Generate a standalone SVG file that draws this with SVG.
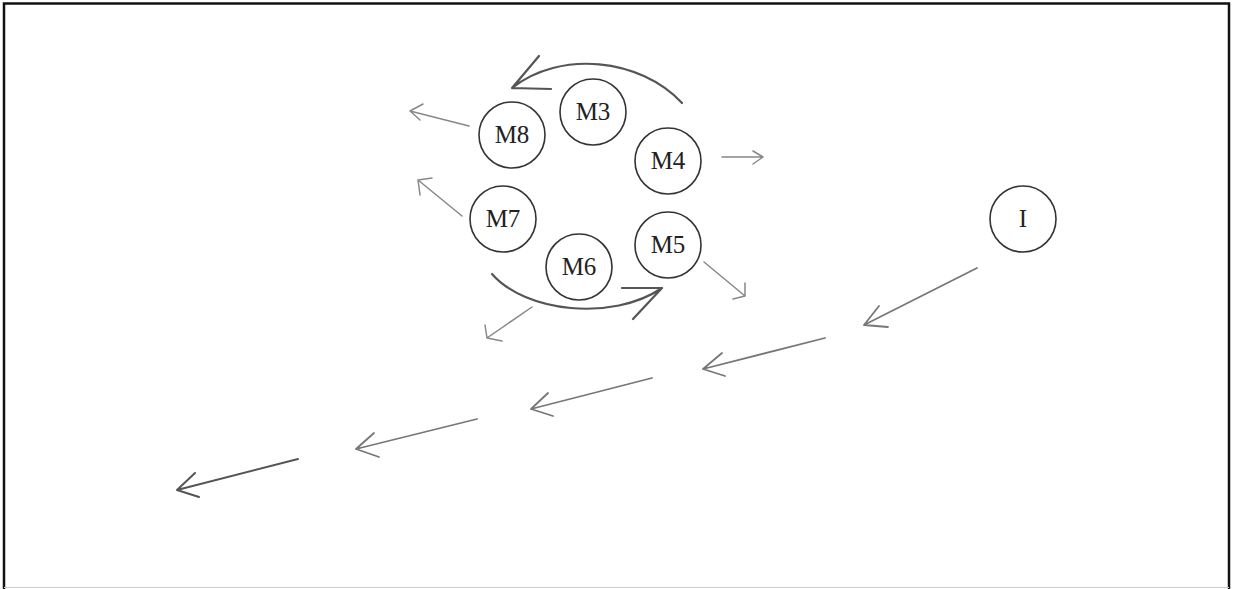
<svg xmlns="http://www.w3.org/2000/svg" width="1233" height="589" viewBox="0 0 1233 589">
<style>
.node circle{fill:#fff;stroke:#333;stroke-width:1.6}
.node text{font-family:"Liberation Serif","Times New Roman",serif;font-size:25px;fill:#222;text-anchor:middle}
.curve{fill:none;stroke:#555;stroke-width:2.2;stroke-linecap:round;stroke-linejoin:round}
.radial{fill:none;stroke:#888;stroke-width:1.5;stroke-linecap:round;stroke-linejoin:round}
.chain{fill:none;stroke:#777;stroke-width:1.8;stroke-linecap:round;stroke-linejoin:round}
.dark{stroke:#555;stroke-width:2}
</style>
<rect x="0" y="0" width="1233" height="589" fill="#fff"/>
<path d="M4,589 V3.5 H1229 V589" fill="none" stroke="#111" stroke-width="2.5"/>
<line x1="4" y1="587.5" x2="1229" y2="587.5" stroke="#ccc" stroke-width="1"/>
<g id="connectors">
  <path class="curve" d="M682,103 C640,58 560,50 512,88 M539,56 L512,88 L551,89"/>
  <path class="curve" d="M492,274 C525,312 612,322 662,288 M622,288 L662,288 L633,319"/>
  <path class="radial" d="M469,126 L410,111 M423,104 L410,111 L420,120"/>
  <path class="radial" d="M722,157 L763,157 M753,151 L763,157 L753,164"/>
  <path class="radial" d="M462,216 L418,180 M432,178 L418,180 L420,195"/>
  <path class="radial" d="M704,262 L745,296 M733,299 L745,296 L745,283"/>
  <path class="radial" d="M532,307 L487,338 M485,325 L487,338 L502,341"/>
  <path class="chain" d="M977,268 L864,325 M879,306 L864,325 L888,327"/>
  <path class="chain" d="M825,338 L703,369 M722,353 L703,369 L725,376"/>
  <path class="chain" d="M652,378 L531,409 M548,393 L531,409 L553,416"/>
  <path class="chain" d="M477,419 L356,449 M374,433 L356,449 L379,457"/>
  <path class="chain dark" d="M298,459 L177,490 M195,473 L177,490 L199,497"/>
</g>
<g id="M3" class="node"><circle cx="593" cy="112" r="33"/><text x="593" y="120">M3</text></g>
<g id="M8" class="node"><circle cx="512" cy="135" r="33"/><text x="512" y="143">M8</text></g>
<g id="M4" class="node"><circle cx="668" cy="161" r="33"/><text x="668" y="169">M4</text></g>
<g id="M7" class="node"><circle cx="503" cy="219" r="33"/><text x="503" y="227">M7</text></g>
<g id="M6" class="node"><circle cx="579" cy="267" r="33"/><text x="579" y="275">M6</text></g>
<g id="M5" class="node"><circle cx="668" cy="245" r="33"/><text x="668" y="253">M5</text></g>
<g id="I" class="node"><circle cx="1023" cy="219" r="33"/><text x="1023" y="227">I</text></g>
</svg>
